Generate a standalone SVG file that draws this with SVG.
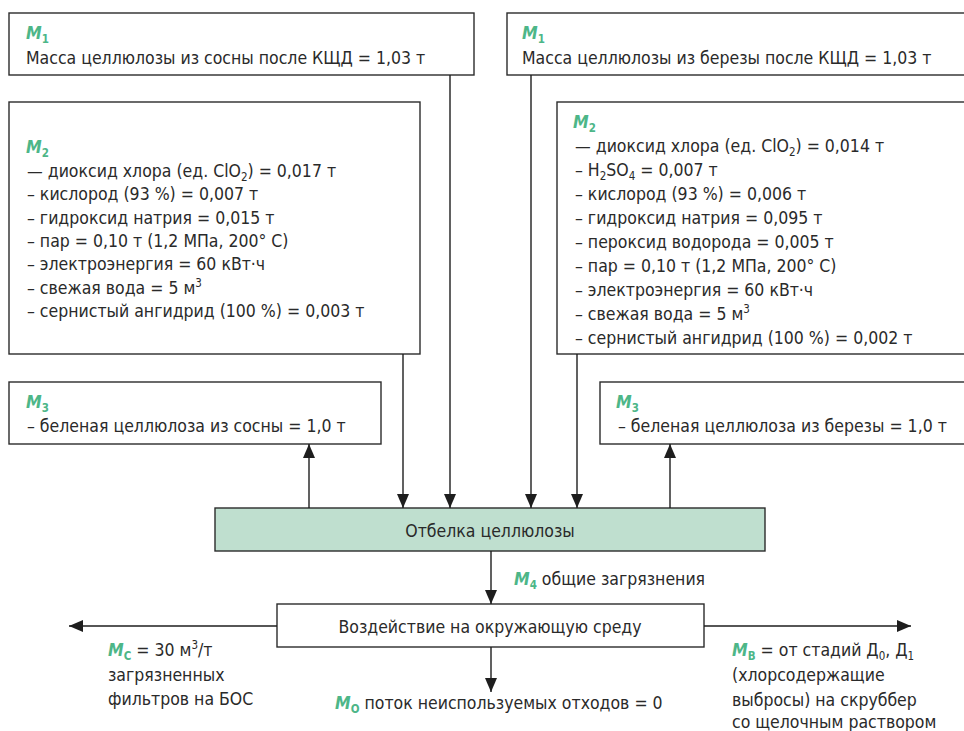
<svg xmlns="http://www.w3.org/2000/svg" width="964" height="731" viewBox="0 0 964 731">
  <defs>
    <marker id="arrow" markerWidth="14" markerHeight="12" refX="14" refY="6" orient="auto" markerUnits="userSpaceOnUse">
      <path d="M0,0 L14,6 L0,12 z" fill="#1e1e1e"/>
    </marker>
    <style>
      .box { fill: #ffffff; stroke: #2b2b2b; stroke-width: 1.4; }
      .proc { fill: #bfdfcf; stroke: #2b2b2b; stroke-width: 1.4; }
      text { font-family: "DejaVu Sans Condensed", "Liberation Sans", sans-serif; font-size: 17.5px; fill: #2a2a2a; }
      .mid { text-anchor: middle; }
      .m { font-style: italic; font-weight: bold; fill: #4db688; }
      .ms { font-weight: bold; fill: #4db688; font-size: 11.5px; }
      .sub { font-size: 11.5px; }
      .sup { font-size: 11.5px; }
      .link { stroke: #1e1e1e; stroke-width: 1.4; fill: none; marker-end: url(#arrow); }
    </style>
  </defs>

  <!-- input: pine pulp -->
  <g id="m1-pine">
    <rect class="box" x="9" y="13" width="465" height="62"/>
    <text x="26" y="39"><tspan class="m">M</tspan><tspan class="ms" dy="4">1</tspan></text>
    <text x="26" y="64">Масса целлюлозы из сосны после КЩД = 1,03 т</text>
  </g>

  <!-- input: birch pulp -->
  <g id="m1-birch">
    <rect class="box" x="507" y="13" width="460" height="62"/>
    <text x="522" y="39"><tspan class="m">M</tspan><tspan class="ms" dy="4">1</tspan></text>
    <text x="522" y="64">Масса целлюлозы из березы после КЩД = 1,03 т</text>
  </g>

  <!-- chemicals and utilities: pine -->
  <g id="m2-pine">
    <rect class="box" x="9" y="102" width="411" height="252"/>
    <text x="26" y="153"><tspan class="m">M</tspan><tspan class="ms" dy="4">2</tspan></text>
    <text x="27" y="177">— диоксид хлора (ед. ClO<tspan class="sub" dy="4">2</tspan><tspan dy="-4">) = 0,017 т</tspan></text>
    <text x="27" y="200">– кислород (93 %) = 0,007 т</text>
    <text x="27" y="223.5">– гидроксид натрия = 0,015 т</text>
    <text x="27" y="247">– пар = 0,10 т (1,2 МПа, 200° С)</text>
    <text x="27" y="270">– электроэнергия = 60 кВт·ч</text>
    <text x="27" y="293.5">– свежая вода = 5 м<tspan class="sup" dy="-7">3</tspan></text>
    <text x="27" y="317">– сернистый ангидрид (100 %) = 0,003 т</text>
  </g>

  <!-- chemicals and utilities: birch -->
  <g id="m2-birch">
    <rect class="box" x="557" y="102" width="410" height="252"/>
    <text x="573" y="128"><tspan class="m">M</tspan><tspan class="ms" dy="4">2</tspan></text>
    <text x="575" y="152">— диоксид хлора (ед. ClO<tspan class="sub" dy="4">2</tspan><tspan dy="-4">) = 0,014 т</tspan></text>
    <text x="575" y="176">– H<tspan class="sub" dy="4">2</tspan><tspan dy="-4">SO</tspan><tspan class="sub" dy="4">4</tspan><tspan dy="-4"> = 0,007 т</tspan></text>
    <text x="575" y="200">– кислород (93 %) = 0,006 т</text>
    <text x="575" y="224">– гидроксид натрия = 0,095 т</text>
    <text x="575" y="248">– пероксид водорода = 0,005 т</text>
    <text x="575" y="272">– пар = 0,10 т (1,2 МПа, 200° С)</text>
    <text x="575" y="296">– электроэнергия = 60 кВт·ч</text>
    <text x="575" y="320">– свежая вода = 5 м<tspan class="sup" dy="-7">3</tspan></text>
    <text x="575" y="344">– сернистый ангидрид (100 %) = 0,002 т</text>
  </g>

  <!-- product: pine -->
  <g id="m3-pine">
    <rect class="box" x="9" y="382" width="372" height="62"/>
    <text x="26" y="408"><tspan class="m">M</tspan><tspan class="ms" dy="4">3</tspan></text>
    <text x="27" y="432">– беленая целлюлоза из сосны = 1,0 т</text>
  </g>

  <!-- product: birch -->
  <g id="m3-birch">
    <rect class="box" x="600" y="382" width="367" height="62"/>
    <text x="616" y="408"><tspan class="m">M</tspan><tspan class="ms" dy="4">3</tspan></text>
    <text x="618" y="432">– беленая целлюлоза из березы = 1,0 т</text>
  </g>

  <!-- bleaching stage -->
  <g id="bleaching">
    <rect class="proc" x="215" y="508" width="550" height="43"/>
    <text class="mid" x="490" y="537">Отбелка целлюлозы</text>
  </g>

  <!-- environmental impact -->
  <g id="impact">
    <rect class="box" x="277" y="604" width="427" height="43"/>
    <text class="mid" x="490" y="633">Воздействие на окружающую среду</text>
  </g>

  <!-- flow labels -->
  <g id="m4-label">
    <text x="514" y="585"><tspan class="m">M</tspan><tspan class="ms" dy="4">4</tspan><tspan dy="-4"> общие загрязнения</tspan></text>
  </g>
  <g id="mc-label">
    <text x="108" y="656"><tspan class="m">M</tspan><tspan class="ms" dy="4">C</tspan><tspan dy="-4"> = 30 м</tspan><tspan class="sup" dy="-7">3</tspan><tspan dy="7">/т</tspan></text>
    <text x="108" y="681">загрязненных</text>
    <text x="108" y="705">фильтров на БОС</text>
  </g>
  <g id="mo-label">
    <text x="335" y="709"><tspan class="m">M</tspan><tspan class="ms" dy="4">O</tspan><tspan dy="-4"> поток неиспользуемых отходов = 0</tspan></text>
  </g>
  <g id="mb-label">
    <text x="732" y="656"><tspan class="m">M</tspan><tspan class="ms" dy="4">B</tspan><tspan dy="-4"> = от стадий Д</tspan><tspan class="sub" dy="4">0</tspan><tspan dy="-4">, Д</tspan><tspan class="sub" dy="4">1</tspan></text>
    <text x="732" y="681">(хлорсодержащие</text>
    <text x="732" y="706">выбросы) на скруббер</text>
    <text x="732" y="728">со щелочным раствором</text>
  </g>

  <!-- connectors -->
  <g id="connectors">
    <line class="link" x1="450" y1="75" x2="450" y2="508"/>
    <line class="link" x1="403" y1="354" x2="403" y2="508"/>
    <line class="link" x1="531" y1="75" x2="531" y2="508"/>
    <line class="link" x1="577" y1="354" x2="577" y2="508"/>
    <line class="link" x1="309" y1="508" x2="309" y2="444"/>
    <line class="link" x1="670" y1="508" x2="670" y2="444"/>
    <line class="link" x1="491" y1="551" x2="491" y2="604"/>
    <line class="link" x1="491" y1="647" x2="491" y2="692"/>
    <line class="link" x1="277" y1="626" x2="69" y2="626"/>
    <line class="link" x1="704" y1="626" x2="911" y2="626"/>
  </g>
</svg>
